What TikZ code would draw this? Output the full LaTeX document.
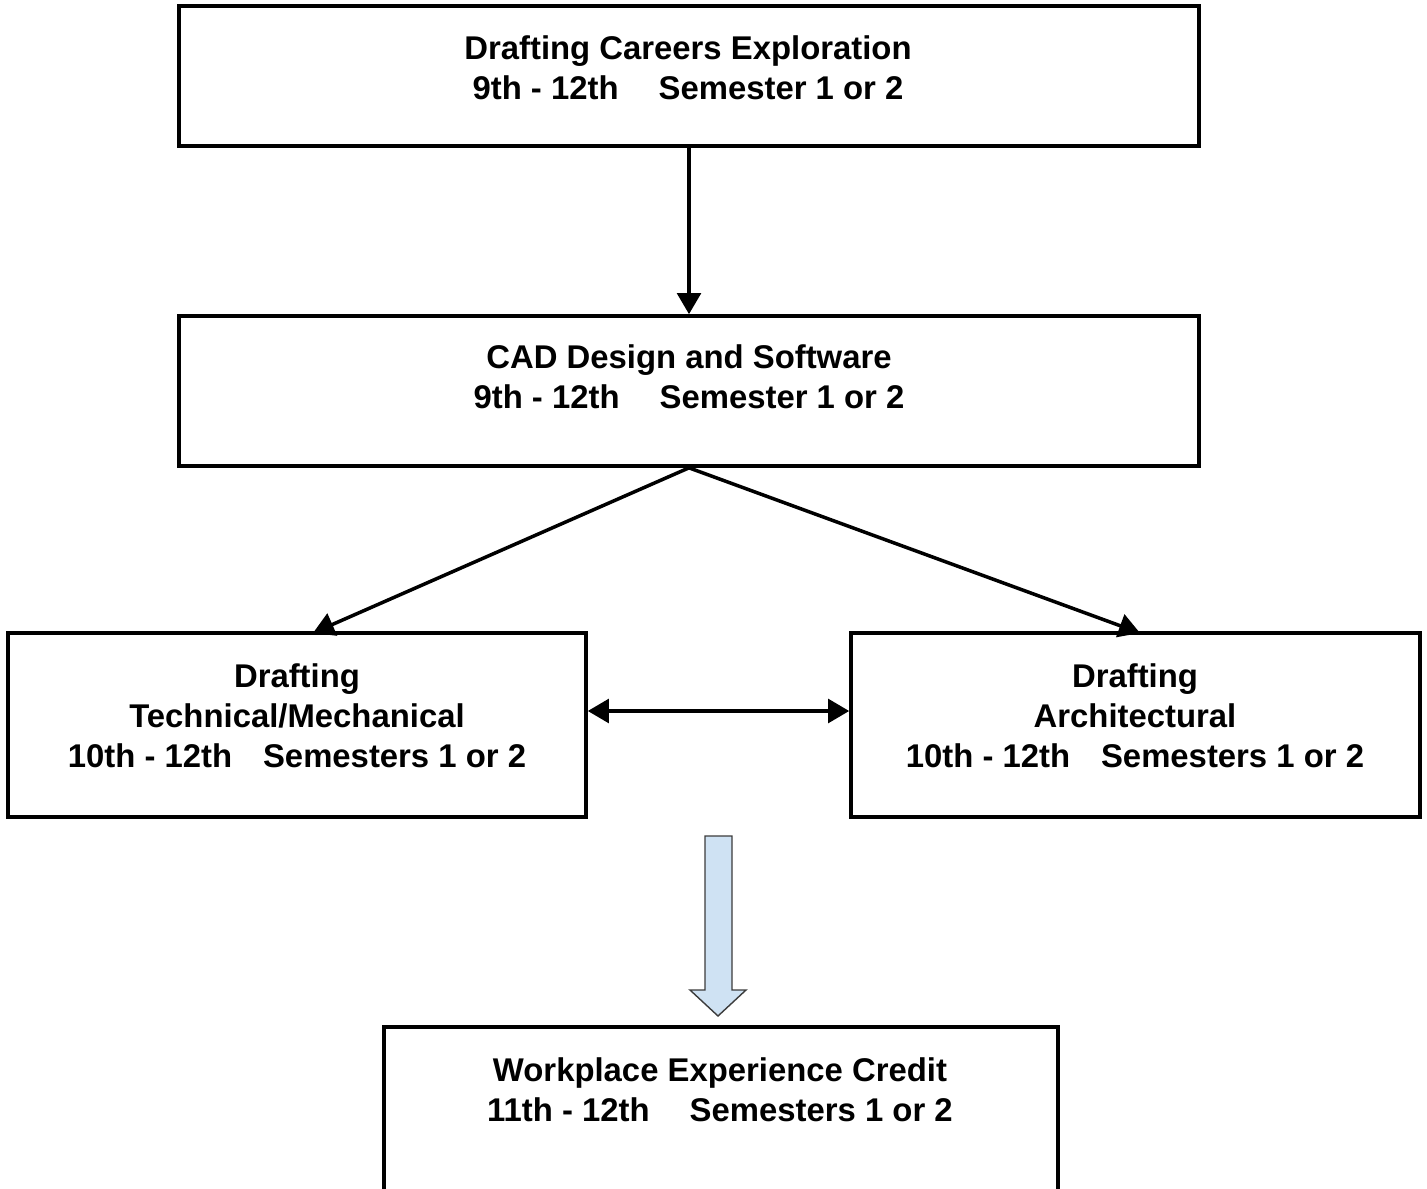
\documentclass[tikz,border=0pt]{standalone}
\usepackage{fontspec}
\setmainfont{Liberation Sans}
\usetikzlibrary{arrows.meta,calc}
\definecolor{blockblue}{RGB}{207,226,243}
\definecolor{blockedge}{RGB}{60,60,60}
\begin{document}
\begin{tikzpicture}[x=0.02cm,y=-0.02cm,
  box/.style={draw=black,line width=2.1pt,rectangle,inner sep=0pt,fill=white},
  lbl/.style={align=center,font=\fontsize{18.7}{22.8}\selectfont\bfseries,inner sep=0pt},
  conn/.style={line width=2pt,-{Triangle[length=12pt,width=13.5pt]}},
  dconn/.style={line width=2pt,{Triangle[length=12pt,width=13.5pt]}-{Triangle[length=12pt,width=13.5pt]}}]
\clip (0,0) rectangle (1427,1189);
\fill[white] (0,0) rectangle (1427,1189);

\node[box,minimum width=20.4cm,minimum height=2.8cm] (top) at (689,76) {};
\node[box,minimum width=20.4cm,minimum height=3.0cm] (cad) at (689,391) {};
\node[box,minimum width=11.56cm,minimum height=3.68cm] (left) at (297,725) {};
\node[box,minimum width=11.38cm,minimum height=3.68cm] (right) at (1135.5,725) {};
\node[box,minimum width=13.48cm,minimum height=6cm] (bot) at (721,1177) {};

\node[lbl] (toplbl) at (688,68) {Drafting Careers Exploration\\9th - 12th\hspace{22.8pt}Semester 1 or 2};
\node[lbl] (cadlbl) at (689,377) {CAD Design and Software\\9th - 12th\hspace{22.8pt}Semester 1 or 2};
\node[lbl] (leftlbl) at (297,716) {Drafting\\Technical/Mechanical\\10th - 12th\hspace{17.6pt}Semesters 1 or 2};
\node[lbl] (rightlbl) at (1135,716) {Drafting\\Architectural\\10th - 12th\hspace{17.6pt}Semesters 1 or 2};
\node[lbl] (botlbl) at (720,1090) {Workplace Experience Credit\\11th - 12th\hspace{22.8pt}Semesters 1 or 2};

\coordinate (lt) at (313,633);
\coordinate (rt) at (1140,633);
\draw[conn] (top.south) -- (cad.north);
\draw[conn] (cad.south) -- (lt);
\draw[conn] (cad.south) -- (rt);
\draw[dconn] ($(left.east)+(0,-14)$) -- ($(right.west)+(0,-14)$);

\draw[fill=blockblue,draw=blockedge,line width=0.8pt,line join=miter]
  (705,836) -- (732,836) -- (732,990) -- (746,990) -- (718,1016) -- (690,990) -- (705,990) -- cycle;
\end{tikzpicture}
\end{document}
